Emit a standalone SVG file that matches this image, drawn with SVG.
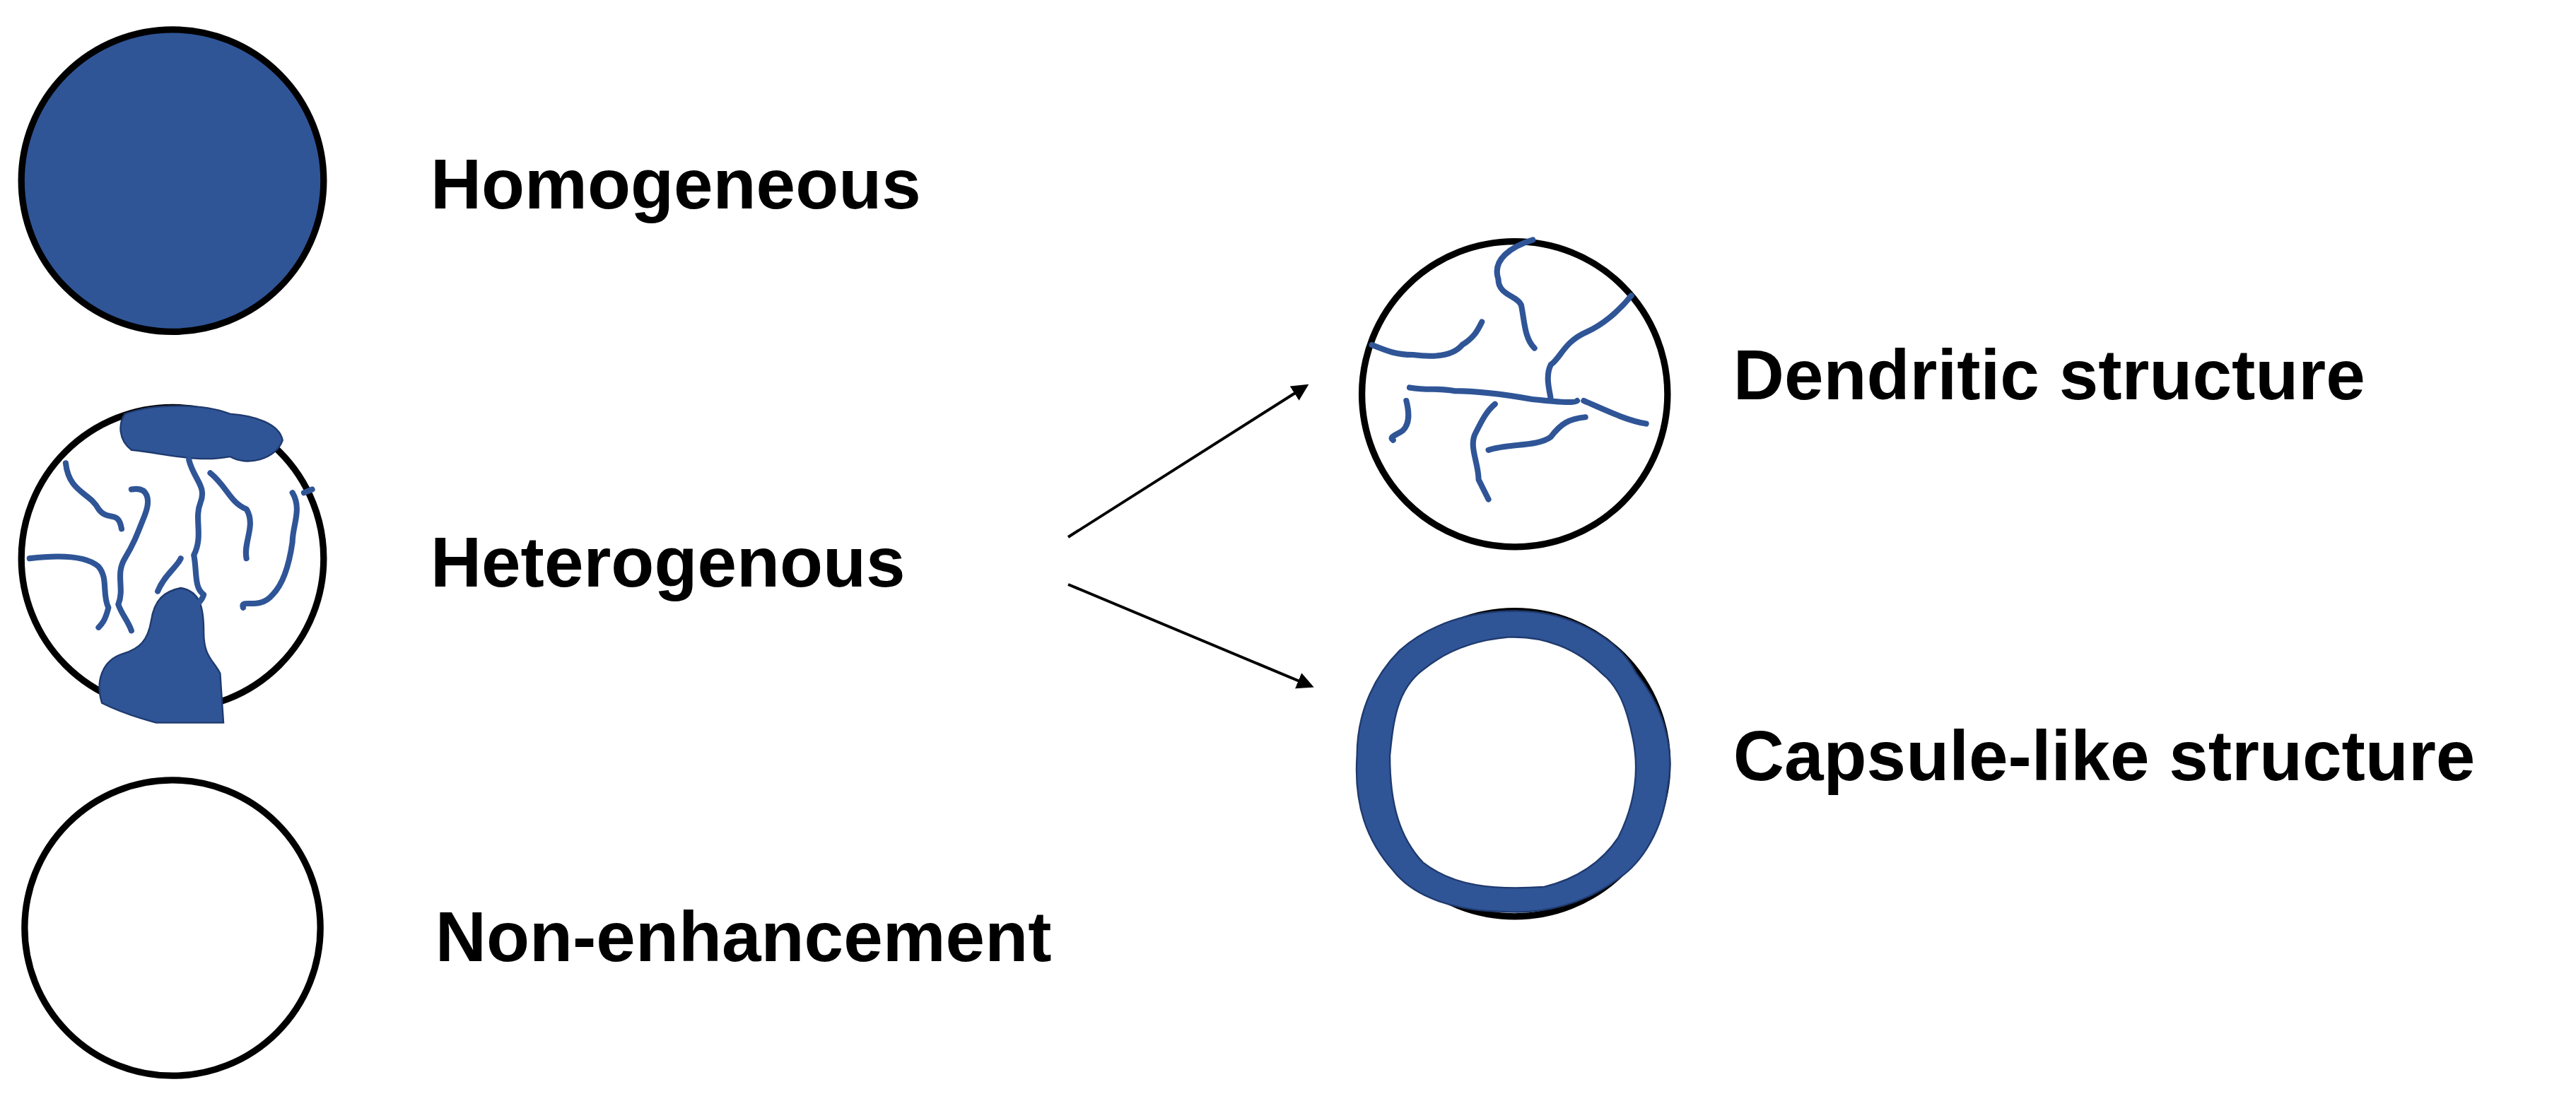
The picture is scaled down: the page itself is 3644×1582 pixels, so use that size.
<svg xmlns="http://www.w3.org/2000/svg" width="3644" height="1582" viewBox="0 0 3644 1582">
<style>
.c{fill:#fff;stroke:#000;stroke-width:4}
.b{fill:#2f5597;stroke:#1f3a6e;stroke-width:1}
.v{fill:none;stroke:#2f5597;stroke-width:3.5;stroke-linecap:round;stroke-linejoin:round}
.t{font-family:"Liberation Sans",Arial,sans-serif;font-weight:bold;font-size:43px;fill:#000}
.a{stroke:#000;stroke-width:4;fill:none;marker-end:url(#ah)}
</style>
<defs><marker id="ah" markerWidth="6" markerHeight="6" refX="5" refY="3" orient="auto" markerUnits="strokeWidth"><path d="M0,0 L6,3 L0,6 z" fill="#000"/></marker></defs>
<rect width="3644" height="1582" fill="#fff"/>
<g transform="scale(2.324)">
<g id="homogeneous"><circle cx="105" cy="110" r="92" fill="#2f5597" stroke="#000" stroke-width="4"/><text class="t" x="262" y="127">Homogeneous</text></g>
<g id="heterogenous"><circle class="c" cx="105" cy="340" r="92"/>
<path class="b" d="M76,252 C95,245 125,246 140,252 C155,253 170,258 172,268 C168,280 150,284 140,278 C120,282 100,276 80,274 C72,268 72,258 76,252 Z"/>
<path class="b" d="M62,428 C58,415 62,402 75,398 C85,395 90,390 92,378 C94,365 100,360 110,358 C122,360 124,370 124,385 C124,400 130,402 134,410 L136,440 L95,440 C80,436 70,432 62,428 Z"/>
<path class="v" d="M40,282 C42,300 55,300 60,310 C66,318 72,310 74,322 M18,340 C35,338 52,338 60,345 C66,352 62,362 66,370 C64,378 62,380 60,382 M80,298 C90,296 92,304 88,314 C84,324 82,330 76,340 C70,350 76,358 72,368 C74,374 78,378 80,384 M115,280 C118,292 126,296 122,306 C118,316 124,326 118,338 C120,348 118,358 124,362 C122,370 110,372 106,378 M128,288 C138,296 140,306 150,310 C156,320 148,330 150,340 M178,300 C184,310 178,320 178,330 C176,344 172,356 166,362 C158,372 146,364 148,370 M185,300 L190,298 M96,360 C100,350 108,345 110,340"/>
<text class="t" x="262" y="357">Heterogenous</text></g>
<g id="non-enhancement"><circle class="c" cx="105" cy="565" r="90"/><text class="t" x="265" y="585">Non-enhancement</text></g>
<g id="dendritic"><circle class="c" cx="922" cy="240" r="93"/>
<path class="v" d="M933,146 C920,150 908,158 912,170 C912,180 924,180 926,186 C928,196 928,206 934,212 M993,180 C985,190 975,198 966,202 C952,208 950,218 944,222 C940,230 944,240 944,244 M835,210 C845,214 850,216 860,216 C875,218 885,216 890,210 C898,205 900,200 902,196 M858,236 C870,238 875,236 885,238 C900,238 915,240 932,243 C942,244 958,246 960,244 M856,244 C858,252 858,258 854,262 C850,265 845,266 848,268 M910,246 C905,250 902,256 898,264 C894,272 900,282 900,292 C902,296 904,300 906,304 M964,244 C978,250 990,256 1002,258 M906,274 C918,270 936,272 944,266 C950,258 955,255 965,254"/>
<text class="t" x="1055" y="243">Dendritic structure</text></g>
<g id="capsule"><circle class="c" cx="922" cy="465" r="93"/>
<path class="b" fill-rule="evenodd" d="M922,372 C955,372 985,388 996,410 C1012,430 1020,455 1015,480 C1012,505 1000,525 985,535 C965,550 940,557 915,555 C890,555 862,548 848,530 C832,512 824,490 826,460 C826,432 838,410 852,396 C870,380 895,372 922,372 Z M918,388 C895,390 878,398 866,408 C850,420 848,440 846,460 C846,490 852,510 866,525 C885,540 910,542 940,540 C960,535 975,525 985,510 C995,490 998,470 994,450 C990,430 985,418 975,410 C960,395 940,387 918,388 Z"/>
</g>
<text class="t" x="1055" y="475">Capsule-like structure</text>
</g>
<g id="connectors">
<line class="a" x1="1511" y1="760" x2="1848" y2="546"/>
<line class="a" x1="1511" y1="827" x2="1855" y2="971"/>
</g>
</svg>
